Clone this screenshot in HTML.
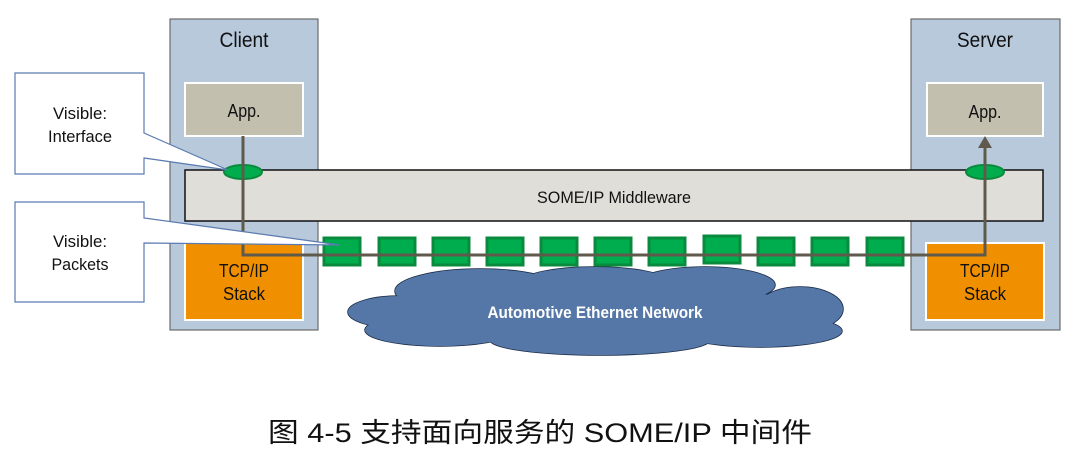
<!DOCTYPE html>
<html><head><meta charset="utf-8"><style>
html,body{margin:0;padding:0;background:#fff;width:1070px;height:454px;overflow:hidden}
svg{display:block}
text{font-family:"Liberation Sans","Noto Sans CJK SC",sans-serif}
</style></head><body>
<svg width="1070" height="454" viewBox="0 0 1070 454" xmlns="http://www.w3.org/2000/svg">
<rect x="170" y="19" width="148" height="311" fill="#b8c9dc" stroke="#6b6b6b" stroke-width="1.2"/>
<rect x="911" y="19" width="149" height="311" fill="#b8c9dc" stroke="#6b6b6b" stroke-width="1.2"/>
<text x="244" y="47" font-size="21" text-anchor="middle" fill="#111" textLength="49" lengthAdjust="spacingAndGlyphs">Client</text>
<text x="985" y="47" font-size="21" text-anchor="middle" fill="#111" textLength="56" lengthAdjust="spacingAndGlyphs">Server</text>
<rect x="185" y="83" width="118" height="53" fill="#c3bfaf" stroke="#fff" stroke-width="2"/>
<rect x="927" y="83" width="116" height="53" fill="#c3bfaf" stroke="#fff" stroke-width="2"/>
<text x="244" y="117" font-size="18" text-anchor="middle" fill="#111" textLength="33" lengthAdjust="spacingAndGlyphs">App.</text>
<text x="985" y="118" font-size="18" text-anchor="middle" fill="#111" textLength="33" lengthAdjust="spacingAndGlyphs">App.</text>
<rect x="185" y="243" width="118" height="77" fill="#f09000" stroke="#fff" stroke-width="2"/>
<rect x="926" y="243" width="118" height="77" fill="#f09000" stroke="#fff" stroke-width="2"/>
<text x="244" y="277" font-size="18" text-anchor="middle" fill="#111" textLength="50" lengthAdjust="spacingAndGlyphs">TCP/IP</text>
<text x="244" y="300" font-size="18" text-anchor="middle" fill="#111" textLength="42" lengthAdjust="spacingAndGlyphs">Stack</text>
<text x="985" y="277" font-size="18" text-anchor="middle" fill="#111" textLength="50" lengthAdjust="spacingAndGlyphs">TCP/IP</text>
<text x="985" y="300" font-size="18" text-anchor="middle" fill="#111" textLength="42" lengthAdjust="spacingAndGlyphs">Stack</text>
<rect x="185" y="170" width="858" height="51" fill="#e0ded8" stroke="#111" stroke-width="1.5"/>
<text x="614" y="203" font-size="17" text-anchor="middle" fill="#111" textLength="154" lengthAdjust="spacingAndGlyphs">SOME/IP Middleware</text>
<g fill="none" stroke="#1a2a44" stroke-width="1.5">
<ellipse cx="400" cy="312" rx="52" ry="16"/><ellipse cx="440" cy="330" rx="75" ry="16"/>
<ellipse cx="480" cy="291" rx="85" ry="22"/><ellipse cx="595" cy="283" rx="75" ry="16"/>
<ellipse cx="705" cy="285" rx="70" ry="18"/><ellipse cx="800" cy="309" rx="43" ry="22"/>
<ellipse cx="760" cy="331" rx="82" ry="16"/><ellipse cx="600" cy="340" rx="110" ry="15"/>
</g>
<g fill="#5577a8">
<ellipse cx="400" cy="312" rx="52" ry="16"/><ellipse cx="440" cy="330" rx="75" ry="16"/>
<ellipse cx="480" cy="291" rx="85" ry="22"/><ellipse cx="595" cy="283" rx="75" ry="16"/>
<ellipse cx="705" cy="285" rx="70" ry="18"/><ellipse cx="800" cy="309" rx="43" ry="22"/>
<ellipse cx="760" cy="331" rx="82" ry="16"/><ellipse cx="600" cy="340" rx="110" ry="15"/>
<ellipse cx="600" cy="310" rx="200" ry="28"/>
</g>
<text x="595" y="318" font-size="17" font-weight="bold" text-anchor="middle" fill="#fff" textLength="215" lengthAdjust="spacingAndGlyphs">Automotive Ethernet Network</text>
<g fill="#00ad4e" stroke="#0a8a3c" stroke-width="3">
<rect x="324" y="238" width="36" height="27"/><rect x="379" y="238" width="36" height="27"/>
<rect x="433" y="238" width="36" height="27"/><rect x="487" y="238" width="36" height="27"/>
<rect x="541" y="238" width="36" height="27"/><rect x="595" y="238" width="36" height="27"/>
<rect x="649" y="238" width="36" height="27"/><rect x="704" y="236" width="36" height="27"/>
<rect x="758" y="238" width="36" height="27"/><rect x="812" y="238" width="36" height="27"/>
<rect x="867" y="238" width="36" height="27"/>
</g>
<ellipse cx="243" cy="172" rx="19" ry="7" fill="#00ad4e" stroke="#0a8a3c" stroke-width="2"/>
<ellipse cx="985" cy="172" rx="19" ry="7" fill="#00ad4e" stroke="#0a8a3c" stroke-width="2"/>
<path d="M243 136 V255 H985 V146" fill="none" stroke="#5f5a4c" stroke-width="3"/>
<path d="M978 148 L985 136 L992 148 Z" fill="#5f5a4c"/>
<path d="M15 73 H144 V133 L228 170 L144 158 V174 H15 Z" fill="#fff" stroke="#5a7ab0" stroke-width="1.2"/>
<path d="M15 202 H144 V218 L340 245 L144 243 V302 H15 Z" fill="#fff" stroke="#5a7ab0" stroke-width="1.2"/>
<text x="80" y="119" font-size="17" text-anchor="middle" fill="#111" textLength="54" lengthAdjust="spacingAndGlyphs">Visible:</text>
<text x="80" y="142" font-size="17" text-anchor="middle" fill="#111" textLength="64" lengthAdjust="spacingAndGlyphs">Interface</text>
<text x="80" y="247" font-size="17" text-anchor="middle" fill="#111" textLength="54" lengthAdjust="spacingAndGlyphs">Visible:</text>
<text x="80" y="270" font-size="17" text-anchor="middle" fill="#111" textLength="57" lengthAdjust="spacingAndGlyphs">Packets</text>
<text x="540" y="442" font-size="27" text-anchor="middle" fill="#111" textLength="544" lengthAdjust="spacingAndGlyphs">图 4-5 支持面向服务的 SOME/IP 中间件</text>
</svg>
</body></html>
